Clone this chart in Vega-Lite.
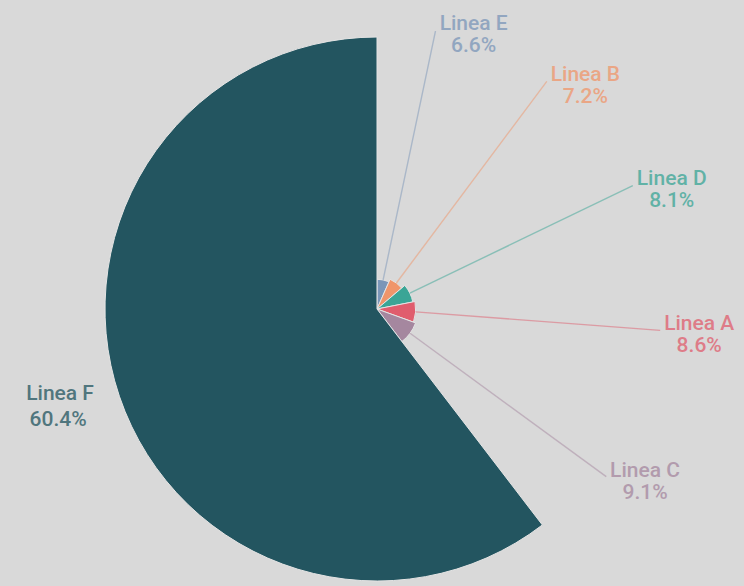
{
  "$schema": "https://vega.github.io/schema/vega-lite/v6.json",
  "width": 734,
  "height": 608,
  "autosize": {"type": "none"},
  "padding": {"left": 10, "top": 5, "right": 0, "bottom": 0},
  "background": "#d9d9d9",
  "config": {"view": {"stroke": null}},
  "data": {
    "values": [
      {"linea": "Linea E", "share": 0.066},
      {"linea": "Linea B", "share": 0.072},
      {"linea": "Linea D", "share": 0.081},
      {"linea": "Linea A", "share": 0.086},
      {"linea": "Linea C", "share": 0.091},
      {"linea": "Linea F", "share": 0.604}
    ]
  },
  "encoding": {
    "theta": {"field": "share", "type": "quantitative", "stack": true},
    "order": {"field": "share", "type": "quantitative", "sort": "ascending"},
    "color": {
      "field": "linea",
      "type": "nominal",
      "legend": null,
      "scale": {
        "domain": ["Linea E", "Linea B", "Linea D", "Linea A", "Linea C", "Linea F"],
        "range": ["#7b96b8", "#f0956a", "#3aa596", "#e05d6d", "#a5879f", "#235560"]
      }
    }
  },
  "layer": [
    {
      "mark": {"type": "arc", "stroke": "#e4e4e4", "strokeWidth": 1},
      "encoding": {
        "radius": {"field": "share", "type": "quantitative", "scale": {"type": "linear", "zero": true, "nice": false, "range": [0, 272]}}
      }
    },
    {
      "mark": {"type": "arc", "filled": false, "padAngle": 3.14159, "strokeWidth": 1.4},
      "encoding": {
        "radius": {"field": "share", "type": "quantitative"},
        "radius2": {"value": 284},
        "opacity": {"condition": {"test": "datum.linea === 'Linea F'", "value": 0}, "value": 0.5}
      }
    },
    {
      "mark": {"type": "text", "radius": 285, "dx": 38, "dy": -6, "align": "center", "baseline": "middle", "font": "Roboto", "fontSize": 21, "fontWeight": 500},
      "encoding": {
        "text": {"field": "linea", "type": "nominal"},
        "opacity": {"condition": {"test": "datum.linea === 'Linea F'", "value": 0}, "value": 0.75}
      }
    },
    {
      "mark": {"type": "text", "radius": 285, "dx": 38, "dy": 16, "align": "center", "baseline": "middle", "font": "Roboto", "fontSize": 21, "fontWeight": 500},
      "encoding": {
        "text": {"field": "share", "type": "quantitative", "format": ".1%"},
        "opacity": {"condition": {"test": "datum.linea === 'Linea F'", "value": 0}, "value": 0.75}
      }
    },
    {
      "mark": {"type": "text", "radius": 285, "dx": -47, "dy": -6, "align": "center", "baseline": "middle", "font": "Roboto", "fontSize": 21, "fontWeight": 500},
      "encoding": {
        "text": {"field": "linea", "type": "nominal"},
        "opacity": {"condition": {"test": "datum.linea === 'Linea F'", "value": 0.75}, "value": 0}
      }
    },
    {
      "mark": {"type": "text", "radius": 285, "dx": -49, "dy": 20, "align": "center", "baseline": "middle", "font": "Roboto", "fontSize": 21, "fontWeight": 500},
      "encoding": {
        "text": {"field": "share", "type": "quantitative", "format": ".1%"},
        "opacity": {"condition": {"test": "datum.linea === 'Linea F'", "value": 0.75}, "value": 0}
      }
    }
  ]
}
